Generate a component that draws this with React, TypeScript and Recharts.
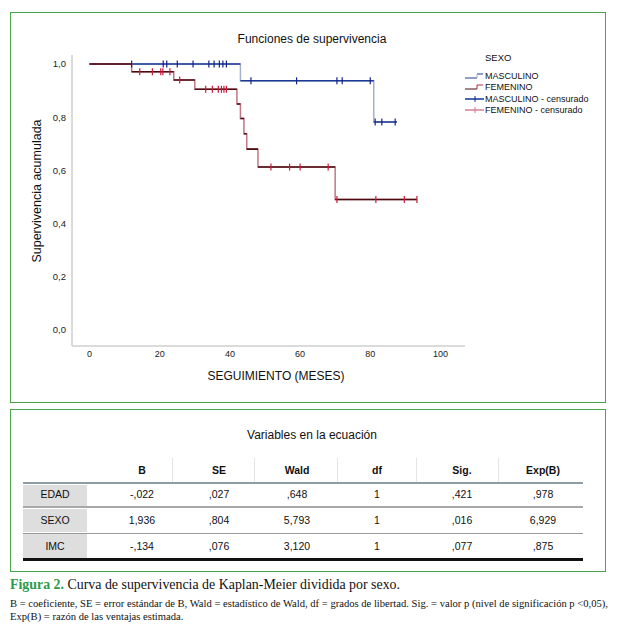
import React from 'react';
import { ComposedChart, Line, Scatter, XAxis, YAxis } from 'recharts';

// ---- Data ----
const mascTimes = [0, 43, 81, 87.6];
const mascSurv = [1.0, 0.937, 0.782, 0.782];
const femTimes = [0, 12, 24, 30, 42, 43, 44, 44.8, 48, 70, 93.3];
const femSurv = [1.0, 0.971, 0.94, 0.905, 0.85, 0.795, 0.738, 0.68, 0.613, 0.491, 0.491];
const mascCensored = [12, 21, 22, 25, 29.5, 34, 35.5, 37, 38, 39, 46, 59, 70.5, 72, 80, 81.4, 83.3, 87.1];
const femCensored = [14.3, 17.9, 20.3, 20.9, 22.9, 25.7, 33.1, 35, 36.7, 37.6, 38.3, 39, 51.7, 57, 60, 68, 70.5, 81.6, 89.7, 93.3];
const xTicks = [0, 20, 40, 60, 80, 100];
const yTicks = [0, 0.2, 0.4, 0.6, 0.8, 1.0];

const rowLabels = ['EDAD', 'SEXO', 'IMC'];
const colHeaders = ['B', 'SE', 'Wald', 'df', 'Sig.', 'Exp(B)'];
const bValues = ['-,022', '1,936', '-,134'];
const seValues = [',027', ',804', ',076'];
const waldValues = [',648', '5,793', '3,120'];
const dfValues = ['1', '1', '1'];
const sigValues = [',421', ',016', ',077'];
const expValues = [',978', '6,929', ',875'];

// ---- helpers ----
const survAt = (times: number[], surv: number[], t: number) => {
  let s = surv[0];
  for (let i = 0; i < times.length; i++) if (times[i] <= t) s = surv[i];
  return s;
};
const stepData = (times: number[], surv: number[]) => times.map((t, i) => ({ t, s: surv[i] }));
const horizData = (times: number[], surv: number[]) => {
  const out: { t: number; s: number | null }[] = [];
  for (let i = 0; i < times.length - 1; i++) {
    out.push({ t: times[i], s: surv[i] });
    out.push({ t: times[i + 1], s: surv[i] });
    out.push({ t: times[i + 1], s: null });
  }
  return out;
};
const censData = (c: number[], times: number[], surv: number[]) => c.map((t) => ({ t, s: survAt(times, surv, t) }));

const SANS = '"Liberation Sans", Arial, sans-serif';
const SERIF = '"Liberation Serif", "Times New Roman", serif';

const tickShape = (color: string) => (props: any) => {
  const { cx, cy } = props;
  return <line x1={cx} x2={cx} y1={cy - 3.5} y2={cy + 3.5} stroke={color} strokeWidth={1.2} />;
};

const fmtY = (v: number) => v.toFixed(1).replace('.', ',');

const MASC = '#1c3a94';
const MASC_V = '#a6b2c8';
const FEM = '#4a0a0e';
const FEM_V = '#c07888';
const MASC_C = '#14248c';
const FEM_C = '#d0183c';

const colCenters = [142, 219, 297, 377, 462, 543];
const colValues = [bValues, seValues, waldValues, dfValues, sigValues, expValues];
const rowCenters = [494, 520, 546];
const TFS = 10.5;

export default function App() {
  return (
    <div style={{ position: 'absolute', left: 0, top: 0, width: 618, height: 638, background: '#fff', overflow: 'hidden', fontFamily: SANS }}>
      {/* Chart panel */}
      <div style={{ position: 'absolute', left: 10, top: 12, width: 596, height: 391, border: '1.5px solid #4aa64a', boxSizing: 'border-box' }} />
      <div style={{ position: 'absolute', left: 0, top: 0 }}>
        <ComposedChart width={618} height={400} margin={{ top: 55, right: 153, bottom: 24, left: 32 }}>
          <XAxis
            type="number"
            dataKey="t"
            domain={[-5, 107]}
            ticks={xTicks}
            allowDataOverflow
            axisLine={{ stroke: '#cfcfcf', strokeWidth: 1.5 }}
            tickLine={false}
            tickSize={3}
            tick={{ fontSize: 9, fill: '#222', fontFamily: SANS }}
            height={30}
          />
          <YAxis
            type="number"
            dataKey="s"
            domain={[-0.06, 1.034]}
            ticks={yTicks}
            allowDataOverflow
            tickFormatter={fmtY}
            axisLine={{ stroke: '#cfcfcf', strokeWidth: 1.5 }}
            tickLine={false}
            tickSize={4}
            tick={{ fontSize: 9.5, fill: '#222', fontFamily: SANS }}
            width={40}
          />
          <Line data={stepData(mascTimes, mascSurv)} dataKey="s" type="stepAfter" stroke={MASC_V} strokeWidth={1.5} dot={false} isAnimationActive={false} />
          <Line data={horizData(mascTimes, mascSurv)} dataKey="s" type="linear" stroke={MASC} strokeWidth={1.6} dot={false} connectNulls={false} isAnimationActive={false} />
          <Line data={stepData(femTimes, femSurv)} dataKey="s" type="stepAfter" stroke={FEM_V} strokeWidth={1.5} dot={false} isAnimationActive={false} />
          <Line data={horizData(femTimes, femSurv)} dataKey="s" type="linear" stroke={FEM} strokeWidth={1.6} dot={false} connectNulls={false} isAnimationActive={false} />
          <Scatter data={censData(mascCensored, mascTimes, mascSurv)} dataKey="s" shape={tickShape(MASC_C)} isAnimationActive={false} />
          <Scatter data={censData(femCensored, femTimes, femSurv)} dataKey="s" shape={tickShape(FEM_C)} isAnimationActive={false} />
        </ComposedChart>
      </div>
      {/* Chart texts */}
      <div style={{ position: 'absolute', left: 162, width: 300, top: 32, textAlign: 'center', fontSize: 12, color: '#111' }}>Funciones de supervivencia</div>
      <div style={{ position: 'absolute', left: 126, width: 300, top: 369, textAlign: 'center', fontSize: 12, color: '#111' }}>SEGUIMIENTO (MESES)</div>
      <div style={{ position: 'absolute', left: 37, top: 191, width: 0, height: 0 }}>
        <div style={{ position: 'absolute', left: -100, top: -8, width: 200, textAlign: 'center', fontSize: 12.5, color: '#111', transform: 'rotate(-90deg)', lineHeight: '16px' }}>Supervivencia acumulada</div>
      </div>
      {/* Legend */}
      <div style={{ position: 'absolute', left: 485, top: 52, fontSize: 9.5, color: '#111' }}>SEXO</div>
      {[
        { label: 'MASCULINO', kind: 'ml' },
        { label: 'FEMENINO', kind: 'fl' },
        { label: 'MASCULINO - censurado', kind: 'mc' },
        { label: 'FEMENINO - censurado', kind: 'fc' },
      ].map((it, i) => (
        <div key={it.label} style={{ position: 'absolute', left: 463, top: 70 + i * 11.4, height: 12, display: 'flex', alignItems: 'center' }}>
          <svg width={21} height={12} style={{ display: 'block' }}>
            {it.kind === 'ml' && (
              <g>
                <line x1={2} x2={14} y1={8} y2={8} stroke={MASC} strokeWidth={1} />
                <line x1={14} x2={20} y1={4} y2={4} stroke={MASC} strokeWidth={1} />
                <line x1={14} x2={14} y1={4} y2={8} stroke={MASC_V} strokeWidth={1} />
              </g>
            )}
            {it.kind === 'fl' && (
              <g>
                <line x1={2} x2={14} y1={8} y2={8} stroke={FEM} strokeWidth={1} />
                <line x1={14} x2={20} y1={4} y2={4} stroke={FEM_V} strokeWidth={1.5} />
                <line x1={14} x2={14} y1={4} y2={8} stroke={FEM_C} strokeWidth={1} />
              </g>
            )}
            {it.kind === 'mc' && (
              <g>
                <line x1={2} x2={21} y1={6} y2={6} stroke="#4a68b0" strokeWidth={2} />
                <line x1={12} x2={12} y1={3} y2={9} stroke={MASC_C} strokeWidth={1} />
              </g>
            )}
            {it.kind === 'fc' && (
              <g>
                <line x1={2} x2={21} y1={6} y2={6} stroke="#e0a0b0" strokeWidth={2} />
                <line x1={12} x2={12} y1={3} y2={9} stroke="#e07890" strokeWidth={1} />
              </g>
            )}
          </svg>
          <span style={{ fontSize: 9, color: '#111', marginLeft: 1, whiteSpace: 'nowrap' }}>{it.label}</span>
        </div>
      ))}

      {/* Table panel */}
      <div style={{ position: 'absolute', left: 10, top: 409, width: 596, height: 163, border: '1.5px solid #4aa64a', boxSizing: 'border-box' }} />
      <div style={{ position: 'absolute', left: 162, width: 300, top: 428, textAlign: 'center', fontSize: 12, color: '#111' }}>Variables en la ecuación</div>
      {/* header separators */}
      {[172, 254, 337, 416, 498].map((x) => (
        <div key={x} style={{ position: 'absolute', left: x, top: 458, width: 1, height: 24, background: '#e4e4e4' }} />
      ))}
      {colHeaders.map((h, i) => (
        <div key={h} style={{ position: 'absolute', left: colCenters[i] - 40, width: 80, top: 470 - TFS * 0.6, textAlign: 'center', fontSize: TFS, fontWeight: 'bold', color: '#111', lineHeight: '12px' }}>{h}</div>
      ))}
      {/* gray label cells */}
      {[[485, 21], [509, 23], [534, 24]].map(([t, h], i) => (
        <div key={i} style={{ position: 'absolute', left: 23, top: t, width: 64, height: h, background: '#dedede' }} />
      ))}
      {/* horizontal rules */}
      <div style={{ position: 'absolute', left: 23, top: 482, width: 560, height: 2, background: '#8e9ca4' }} />
      <div style={{ position: 'absolute', left: 23, top: 506, width: 560, height: 2, background: '#a8a8a8' }} />
      <div style={{ position: 'absolute', left: 23, top: 533, width: 560, height: 1, background: '#9a9a9a' }} />
      <div style={{ position: 'absolute', left: 23, top: 558, width: 560, height: 2.5, background: '#111' }} />
      {rowLabels.map((r, ri) => (
        <div key={r} style={{ position: 'absolute', left: 23, width: 64, top: rowCenters[ri] - 6, textAlign: 'center', fontSize: TFS, color: '#111', lineHeight: '12px' }}>{r}</div>
      ))}
      {colValues.map((vals, ci) =>
        vals.map((v, ri) => (
          <div key={ci + '-' + ri} style={{ position: 'absolute', left: colCenters[ci] - 40, width: 80, top: rowCenters[ri] - 6, textAlign: 'center', fontSize: TFS, color: '#111', lineHeight: '12px' }}>{v}</div>
        ))
      )}

      {/* Caption */}
      <div style={{ position: 'absolute', left: 10, top: 576, fontFamily: SERIF, fontSize: 13.9, lineHeight: '18px', color: '#111', whiteSpace: 'nowrap' }}>
        <span style={{ color: '#2e9a4c', fontWeight: 'bold' }}>Figura 2.</span> Curva de supervivencia de Kaplan-Meier dividida por sexo.
      </div>
      <div style={{ position: 'absolute', left: 10, top: 597, width: 612, fontFamily: SERIF, fontSize: 10.6, lineHeight: '13px', color: '#111', whiteSpace: 'nowrap' }}>
        B = coeficiente, SE = error estándar de B, Wald = estadístico de Wald, df = grados de libertad. Sig. = valor p (nivel de significación p &lt;0,05),
        <br />
        Exp(B) = razón de las ventajas estimada.
      </div>
    </div>
  );
}
